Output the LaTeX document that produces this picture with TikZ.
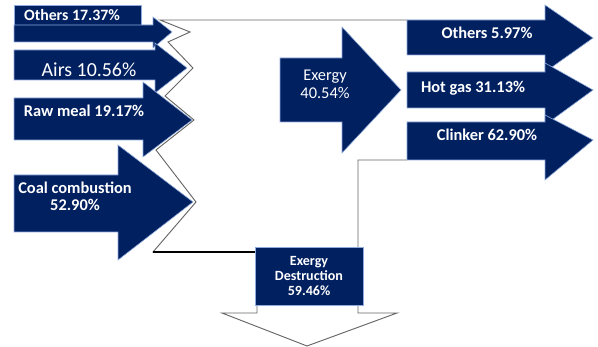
\documentclass[tikz,border=0pt]{standalone}
\usepackage{fontspec}
\setmainfont{Carlito}
\usetikzlibrary{positioning}
\definecolor{navy}{HTML}{002060}
\definecolor{edge}{HTML}{8FAADC}
% x0, shaft top, shaft bottom, head base, head top, head bottom, tip x, tip y
\newcommand{\flowarrow}[8]{%
  \filldraw[flow] (#1,#2) -- (#4,#2) -- (#4,#5) -- (#7,#8) -- (#4,#6) -- (#4,#3) -- (#1,#3) -- cycle;}

\begin{document}
\begin{tikzpicture}[
  x=0.03cm, y=-0.03cm,
  flow/.style={fill=navy, draw=edge, line width=0.5pt},
  outline/.style={draw=black!60, line width=0.8pt, line join=miter},
  lbl/.style={text=white, font=\bfseries\fontsize{14}{14.5}\selectfont, align=center, inner sep=0pt},
  box/.style={fill=navy, draw=edge, line width=0.5pt, minimum width=3.24cm, minimum height=1.74cm,
              text=white, font=\bfseries\fontsize{12}{12.8}\selectfont, align=center, inner sep=0pt}
]
  \useasboundingbox (0,0) rectangle (598,347);

  % Outline of the balance
  \draw[outline] (407,20) -- (160,20) -- (190,32) -- (168,42) -- (193,68) -- (165,96)
    -- (194,120) -- (156,150) -- (196,202) -- (153,252) -- (257,252) -- (257,313)
    -- (222,313) -- (307,346) -- (397,313) -- (358,313) -- (358,160) -- (407,160);
  \draw[black, line width=1.2pt] (153,252) -- (257,252);

  % Inputs
  \filldraw[flow] (14,5) rectangle (141,25);
  \flowarrow{14}{25}{42}{153}{17}{48}{172}{32}
  \flowarrow{14}{50}{80}{155}{43}{93}{187}{68}
  \flowarrow{14}{98}{140}{143}{82}{157}{192}{120}
  \flowarrow{14}{175}{232}{118}{145}{260}{193}{202}

  % Exergy
  \flowarrow{280}{58}{122}{342}{27}{153}{401}{90}

  % Outputs
  \flowarrow{407}{20}{55}{545}{5}{72}{593}{38}
  \flowarrow{407}{72}{108}{545}{63}{125}{593}{90}
  \flowarrow{407}{122}{160}{545}{115}{180}{593}{140}

  % Labels
  \node[lbl, font=\bfseries\fontsize{13.5}{14}\selectfont] (othersin) at (72,15) {Others 17.37\%};
  \node[lbl, font=\fontsize{17}{19}\selectfont] (airs) at (89,70) {Airs 10.56\%};
  \node[lbl] (rawmeal) at (84,111) {Raw meal 19.17\%};
  \node[lbl] (coal) at (75,196) {Coal combustion\\52.90\%};
  \node[lbl, font=\fontsize{14}{15.3}\selectfont] (exergy) at (325,84) {Exergy\\40.54\%};
  \node[lbl] (othersout) at (487,33) {Others 5.97\%};
  \node[lbl] (hotgas) at (473,88) {Hot gas 31.13\%};
  \node[lbl] (clinker) at (487,135) {Clinker 62.90\%};
  \node[box] (destr) at (309,276) {Exergy\\Destruction\\59.46\%};
\end{tikzpicture}
\end{document}
